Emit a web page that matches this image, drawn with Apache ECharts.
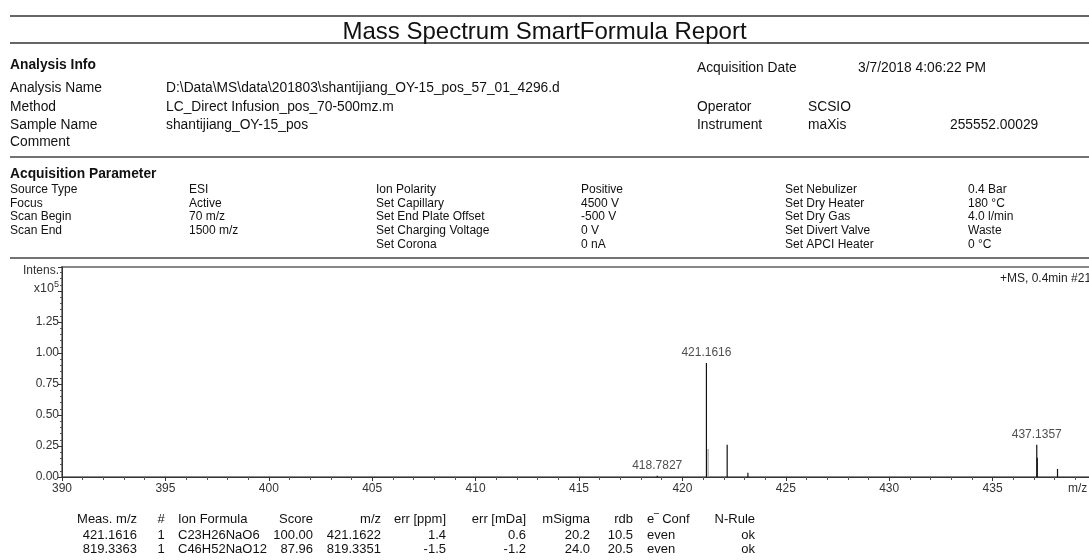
<!DOCTYPE html>
<html>
<head>
<meta charset="utf-8">
<script src="https://cdn.jsdelivr.net/npm/echarts@6/dist/echarts.min.js"></script>
<style>
  html, body { margin: 0; background: #fff; }
  #report { width: 1089px; height: 560px; }
</style>
</head>
<body>
<div id="report"></div>
<script>
// ---- spectrum (intensity in x10^5) ----
const peakMz = [418.7827, 421.1616, 422.1650, 423.1680, 437.1357, 437.1600, 438.1390];
const peakIntensity = [0.010, 0.920, 0.260, 0.035, 0.260, 0.155, 0.065];
// lighter profile shoulder next to the base peak
const shoulderMz = [421.2400];
const shoulderIntensity = [0.225];
const labeledMz = [418.7827, 421.1616, 437.1357];
const labeledIntensity = [0.010, 0.920, 0.260];

// ---- analysis info ----
const infoLabels = ['Analysis Name', 'Method', 'Sample Name', 'Comment'];
const infoValues = ['D:\\Data\\MS\\data\\201803\\shantijiang_OY-15_pos_57_01_4296.d',
  'LC_Direct Infusion_pos_70-500mz.m', 'shantijiang_OY-15_pos', ''];
const acqDate = '3/7/2018 4:06:22 PM';
const operatorName = 'SCSIO';
const instrumentName = 'maXis';
const instrumentSerial = '255552.00029';

// ---- acquisition parameter ----
const paramNames1 = ['Source Type', 'Focus', 'Scan Begin', 'Scan End'];
const paramValues1 = ['ESI', 'Active', '70 m/z', '1500 m/z'];
const paramNames2 = ['Ion Polarity', 'Set Capillary', 'Set End Plate Offset', 'Set Charging Voltage', 'Set Corona'];
const paramValues2 = ['Positive', '4500 V', '-500 V', '0 V', '0 nA'];
const paramNames3 = ['Set Nebulizer', 'Set Dry Heater', 'Set Dry Gas', 'Set Divert Valve', 'Set APCI Heater'];
const paramValues3 = ['0.4 Bar', '180 °C', '4.0 l/min', 'Waste', '0 °C'];

// ---- formula table ----
const tableHeader = ['Meas. m/z', '#', 'Ion Formula', 'Score', 'm/z', 'err [ppm]', 'err [mDa]', 'mSigma', 'rdb', 'e Conf', 'N-Rule'];
const tableRows = [
  ['421.1616', '1', 'C23H26NaO6', '100.00', '421.1622', '1.4', '0.6', '20.2', '10.5', 'even', 'ok'],
  ['819.3363', '1', 'C46H52NaO12', '87.96', '819.3351', '-1.5', '-1.2', '24.0', '20.5', 'even', 'ok']
];

const FONT = '"Liberation Sans", Arial, sans-serif';
const INK = '#111';

function txt(x, y, text, size, opts) {
  opts = opts || {};
  return {
    type: 'text', x: x, y: y, silent: true,
    style: {
      text: text,
      fill: opts.fill || INK,
      font: (opts.bold ? 'bold ' : '') + size + 'px ' + FONT,
      textAlign: opts.align || 'left',
      verticalAlign: 'middle',
      rich: opts.rich
    }
  };
}
function hline(y, color, width) {
  return { type: 'line', silent: true, shape: { x1: 10, y1: y, x2: 1089, y2: y },
    style: { stroke: color, lineWidth: width } };
}

let graphics = [];
graphics.push(hline(16, '#333', 1.5), hline(43, '#333', 1.5), hline(157, '#444', 1.5), hline(258, '#444', 1.5));

// analysis info block
const INFO = 13.8;
graphics.push(txt(10, 65, 'Analysis Info', INFO, { bold: true }));
const infoY = [88, 107, 125, 142];
infoLabels.forEach((l, i) => {
  graphics.push(txt(10, infoY[i], l, INFO));
  graphics.push(txt(166, infoY[i], infoValues[i], INFO));
});
graphics.push(txt(697, 68, 'Acquisition Date', INFO), txt(858, 68, acqDate, INFO));
graphics.push(txt(697, 107, 'Operator', INFO), txt(808, 107, operatorName, INFO));
graphics.push(txt(697, 125, 'Instrument', INFO), txt(808, 125, instrumentName, INFO), txt(950, 125, instrumentSerial, INFO));

// acquisition parameter block
graphics.push(txt(10, 174, 'Acquisition Parameter', INFO, { bold: true }));
const paramY = [190, 203.5, 217, 231, 245];
paramNames1.forEach((l, i) => {
  graphics.push(txt(10, paramY[i], l, 12), txt(189, paramY[i], paramValues1[i], 12));
});
paramNames2.forEach((l, i) => {
  graphics.push(txt(376, paramY[i], l, 12), txt(581, paramY[i], paramValues2[i], 12));
});
paramNames3.forEach((l, i) => {
  graphics.push(txt(785, paramY[i], l, 12), txt(968, paramY[i], paramValues3[i], 12));
});

// spectrum decorations
graphics.push(txt(59, 271, 'Intens.', 12, { align: 'right', fill: '#333' }));
graphics.push(txt(59, 289, '{a|x10}{s|5}', 12, { align: 'right', fill: '#333',
  rich: { a: { fontSize: 12.5, fontFamily: FONT, fill: '#333' },
          s: { fontSize: 9, fontFamily: FONT, verticalAlign: 'top', padding: [0, 0, 8, 0], fill: '#333' } } }));
graphics.push(txt(1000, 279, '+MS, 0.4min #21', 12, { fill: '#222' }));
graphics.push(txt(1068, 489, 'm/z', 12, { fill: '#333' }));

// table
const colX = [137, 161, 178, 313, 381, 446, 526, 590, 633, 647, 755];
const colAlign = ['right', 'center', 'left', 'right', 'right', 'right', 'right', 'right', 'right', 'left', 'right'];
const rowY = [519, 535, 549];
tableHeader.forEach((h, c) => {
  if (c === 9) {
    graphics.push(txt(colX[c], rowY[0], '{e|e}{m|‾}{t| Conf}', 13, {
      rich: { e: { fontSize: 13, fontFamily: FONT }, m: { fontSize: 13, fontFamily: FONT, verticalAlign: 'top' },
              t: { fontSize: 13, fontFamily: FONT } } }));
  } else {
    graphics.push(txt(colX[c], rowY[0], h, 13, { align: colAlign[c] }));
  }
});
tableRows.forEach((row, r) => {
  row.forEach((v, c) => graphics.push(txt(colX[c], rowY[r + 1], v, 13, { align: colAlign[c] })));
});

function stick(color) {
  return function (params, api) {
    const top = api.coord([api.value(0), api.value(1)]);
    const base = api.coord([api.value(0), 0]);
    return { type: 'line', shape: { x1: top[0], y1: top[1], x2: base[0], y2: base[1] },
      style: { stroke: color, lineWidth: 1.2 } };
  };
}

const chart = echarts.init(document.getElementById('report'));
chart.setOption({
  backgroundColor: '#fff',
  animation: false,
  title: {
    text: 'Mass Spectrum SmartFormula Report',
    left: 'center', top: 15,
    textStyle: { fontFamily: FONT, fontSize: 24, fontWeight: 'normal', color: '#111' }
  },
  grid: {
    left: 62, top: 267, width: 1034, height: 210,
    show: true, borderColor: '#888', borderWidth: 2,
    outerBoundsMode: 'none'
  },
  xAxis: {
    type: 'value', min: 390, max: 440, interval: 5,
    axisLine: { lineStyle: { color: '#333', width: 1 } },
    axisTick: { length: 4, lineStyle: { color: '#333' } },
    minorTick: { show: true, splitNumber: 5, length: 3, lineStyle: { color: '#555' } },
    splitLine: { show: false },
    axisLabel: { fontFamily: FONT, fontSize: 12, color: '#333', margin: 6,
      formatter: v => (v >= 440 ? '' : String(v)) }
  },
  yAxis: {
    type: 'value', min: 0, max: 1.694, interval: 0.25,
    axisLine: { show: true, lineStyle: { color: '#333', width: 1 } },
    axisTick: { show: true, length: 4, lineStyle: { color: '#333' } },
    minorTick: { show: true, splitNumber: 5, length: 2, lineStyle: { color: '#555' } },
    splitLine: { show: false },
    axisLabel: { fontFamily: FONT, fontSize: 12, color: '#333', margin: 3,
      formatter: v => (v <= 1.3 ? v.toFixed(2) : '') }
  },
  series: [
    {
      type: 'custom', renderItem: stick('#9a9a9a'),
      data: shoulderMz.map((m, i) => [m, shoulderIntensity[i]])
    },
    {
      type: 'custom', renderItem: stick('#111'),
      data: peakMz.map((m, i) => [m, peakIntensity[i]])
    },
    {
      type: 'scatter', symbolSize: 0, silent: true,
      data: labeledMz.map((m, i) => [m, labeledIntensity[i]]),
      label: {
        show: true, position: 'top', distance: 4,
        fontFamily: FONT, fontSize: 12, color: '#222',
        formatter: p => p.value[0].toFixed(4)
      }
    }
  ],
  graphic: graphics
});
</script>
</body>
</html>
